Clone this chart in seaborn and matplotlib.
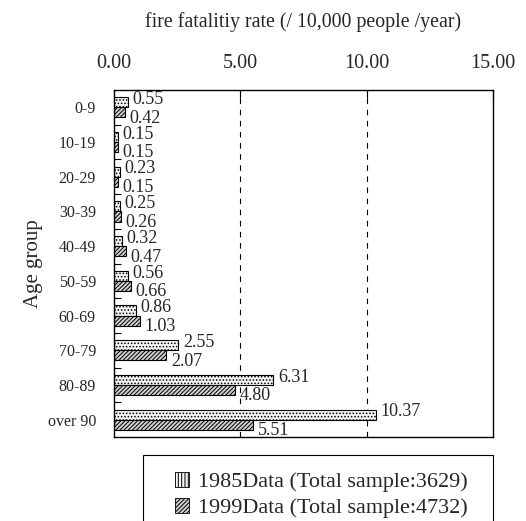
import matplotlib
matplotlib.use("Agg")
import matplotlib.pyplot as plt
import seaborn as sns
import pandas as pd
from matplotlib.patches import Rectangle, Patch

sns.set_theme(style="white")
plt.rcParams['font.family'] = ['Liberation Serif', 'DejaVu Serif']
plt.rcParams['hatch.linewidth'] = 0.7

age_groups = ["0-9", "10-19", "20-29", "30-39", "40-49", "50-59", "60-69", "70-79", "80-89", "over 90"]
rate_1985 = [0.55, 0.15, 0.23, 0.25, 0.32, 0.56, 0.86, 2.55, 6.31, 10.37]
rate_1999 = [0.42, 0.15, 0.15, 0.26, 0.47, 0.66, 1.03, 2.07, 4.80, 5.51]
series = ["1985Data (Total sample:3629)", "1999Data (Total sample:4732)"]
x_ticks = [0, 5, 10, 15]

df = pd.DataFrame({
    "age": age_groups * 2,
    "rate": rate_1985 + rate_1999,
    "series": [series[0]] * len(age_groups) + [series[1]] * len(age_groups),
})

fig = plt.figure(figsize=(5.26, 5.21), dpi=100)
ax = fig.add_axes([114/526, 1 - 437/521, (493-114)/526, (437-90)/521])

sns.barplot(data=df, y="age", x="rate", hue="series", orient="h", ax=ax,
            palette=["#eeeeee", "#bbbbbb"], width=0.58, edgecolor="black",
            linewidth=0.8, legend=False, order=age_groups, hue_order=series)

n = len(age_groups)
for i, p in enumerate(ax.patches[:2 * n]):
    if i < n:
        p.set_hatch(".....")
        p.set_facecolor("#f4f4f4")
    else:
        p.set_hatch("////////")
        p.set_facecolor("#d0d0d0")

# value labels
for i, p in enumerate(ax.patches[:2 * n]):
    w = p.get_width()
    yc = p.get_y() + p.get_height() / 2
    if i < n:
        ax.text(w + 0.18, yc - 0.08, f"{w:.2f}", va="center", ha="left", fontsize=13)
    else:
        ax.text(w + 0.18, yc + 0.17, f"{w:.2f}", va="center", ha="left", fontsize=13)

ax.set_xlim(0, 15)
ax.set_ylim(n - 0.5, -0.5)
ax.set_xticks(x_ticks)
ax.set_xticklabels([f"{v:.2f}" for v in x_ticks], fontsize=14.5)
ax.xaxis.tick_top()
ax.xaxis.set_label_position("top")
ax.tick_params(axis="x", direction="in", length=6, width=0.8, pad=12.5, top=True, bottom=False, color="black")
ax.set_xlabel("fire fatalitiy rate (/ 10,000 people /year)", fontsize=14.3, labelpad=19)

ax.set_yticks(range(n))
ax.set_yticklabels(age_groups, fontsize=11.5)
ax.tick_params(axis="y", which="major", length=0, pad=13)
ax.set_yticks([i + 0.5 for i in range(n - 1)], minor=True)
ax.tick_params(axis="y", which="minor", direction="in", length=5, width=0.8, left=True, color="black")
ax.set_ylabel("Age group", fontsize=15, labelpad=3)

for v in [5, 10]:
    ax.axvline(v, color="black", linestyle=(0, (5, 5)), linewidth=0.8, zorder=0)

for s in ax.spines.values():
    s.set_color("black")
    s.set_linewidth(1.0)

# legend box
fig.patches.append(Rectangle((143/526, -0.01), (493-143)/526, (521-455)/521 + 0.01,
                             transform=fig.transFigure, fill=False, edgecolor="black", linewidth=0.8))
handles = [Patch(facecolor="#f4f4f4", edgecolor="black", hatch="|||||", linewidth=0.6),
           Patch(facecolor="#d0d0d0", edgecolor="black", hatch="////////", linewidth=0.6)]
fig.legend(handles, series, loc="center", bbox_to_anchor=(321/526, 1 - 495/521),
           frameon=False, fontsize=15.9, handlelength=0.65, handleheight=0.65,
           handletextpad=0.4, labelspacing=0.25)

fig.savefig("out.png", dpi=100)
